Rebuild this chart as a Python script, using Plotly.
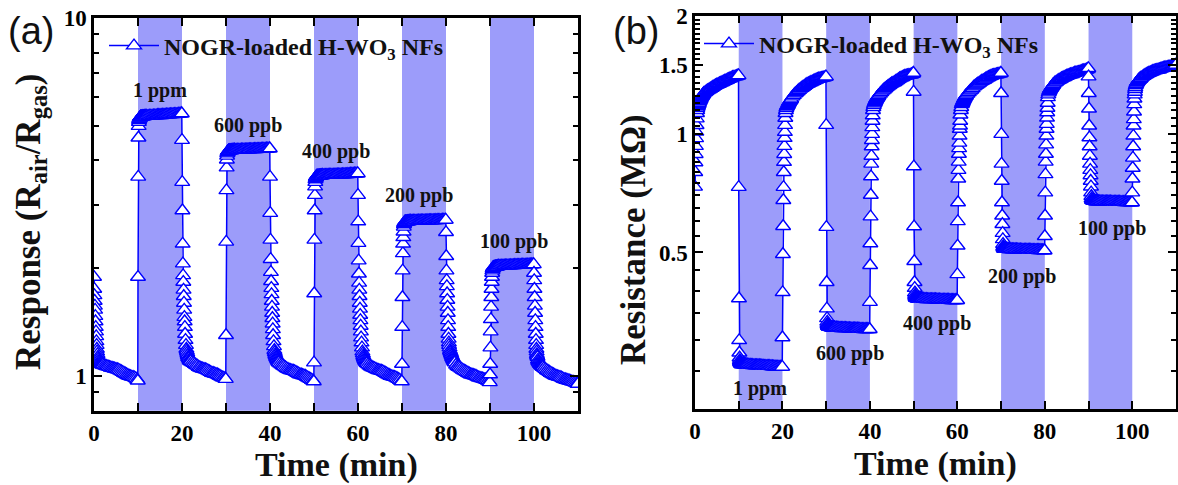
import math
import plotly.graph_objects as go

# ---------------- data ----------------
# relative sampling times (min) inside each 10-min step
SEG_T = [0.0, 0.05, 0.1, 0.15, 0.2, 0.25, 0.3, 0.35, 0.4, 0.45, 0.5, 0.55, 0.6, 0.65, 0.7,
         0.8, 0.9, 1.0, 1.1, 1.2, 1.3, 1.4, 1.5, 1.6, 1.7, 1.8, 1.9, 2.0,
         2.3, 2.6, 2.9, 3.2, 3.5, 3.8, 4.1, 4.4, 4.7, 5.0, 5.3, 5.6, 5.9, 6.2, 6.5, 6.8,
         7.1, 7.4, 7.7, 8.0, 8.3, 8.6, 8.9, 9.2, 9.5, 9.8, 9.95]
SEG_STARTS = [0, 10, 20, 30, 40, 50, 60, 70, 80, 90, 100]
GAS_ON = [10, 30, 50, 70, 90]
GAS_MIN = 10
CONC_LABELS = ["1 ppm", "600 ppb", "400 ppb", "200 ppb", "100 ppb"]

# (a) response Rair/Rgas
A_R0 = [1.89, 1.75, 1.68, 1.62, 1.57, 1.53, 1.47, 1.42, 1.37, 1.33, 1.29, 1.25, 1.22, 1.19, 1.17,
        1.15, 1.13, 1.12, 1.11, 1.10, 1.095, 1.09, 1.087, 1.084, 1.08, 1.078, 1.076, 1.075,
        1.071, 1.068, 1.065, 1.062, 1.059, 1.055, 1.053, 1.05, 1.048, 1.045, 1.043, 1.04, 1.035, 1.03,
        1.025, 1.02, 1.015, 1.01, 1.005, 1.0, 0.998, 0.995, 0.993, 0.99, 0.985, 0.978, 0.97]
A_E1 = [1.89, 3.60, 4.63, 4.99, 5.12, 5.18, 5.22, 5.24, 5.26, 5.27, 5.28, 5.29, 5.29, 5.30, 5.30,
        5.30, 5.30, 5.31, 5.31, 5.31, 5.31, 5.31, 5.32, 5.32, 5.32, 5.32, 5.32, 5.32,
        5.32, 5.33, 5.33, 5.33, 5.34, 5.34, 5.34, 5.35, 5.35, 5.35, 5.35, 5.36, 5.36, 5.36,
        5.37, 5.37, 5.37, 5.38, 5.38, 5.38, 5.39, 5.39, 5.39, 5.40, 5.40, 5.41, 5.41]
A_R1 = [4.56, 3.48, 2.90, 2.34, 2.06, 1.91, 1.83, 1.74, 1.67, 1.60, 1.53, 1.46, 1.42, 1.37, 1.31,
        1.26, 1.22, 1.19, 1.175, 1.16, 1.145, 1.13, 1.125, 1.12, 1.11, 1.105, 1.10, 1.10,
        1.093, 1.087, 1.08, 1.073, 1.067, 1.06, 1.055, 1.05, 1.048, 1.045, 1.043, 1.04, 1.035, 1.03,
        1.025, 1.02, 1.018, 1.015, 1.012, 1.01, 1.005, 1.0, 0.995, 0.99, 0.988, 0.984, 0.98]
A_E2 = [1.30, 2.37, 3.30, 3.82, 4.02, 4.12, 4.18, 4.21, 4.23, 4.24, 4.25, 4.25, 4.26, 4.26, 4.26,
        4.265, 4.27, 4.27, 4.27, 4.27, 4.272, 4.274, 4.275, 4.276, 4.277, 4.278, 4.279, 4.28,
        4.28, 4.28, 4.282, 4.284, 4.285, 4.286, 4.288, 4.29, 4.29, 4.292, 4.294, 4.295, 4.296, 4.298,
        4.30, 4.30, 4.302, 4.304, 4.305, 4.306, 4.308, 4.31, 4.312, 4.314, 4.316, 4.318, 4.32]
A_R2 = [3.60, 2.85, 2.40, 2.12, 1.95, 1.84, 1.76, 1.69, 1.62, 1.56, 1.50, 1.45, 1.40, 1.35, 1.30,
        1.25, 1.21, 1.18, 1.165, 1.15, 1.14, 1.13, 1.123, 1.117, 1.11, 1.103, 1.096, 1.09,
        1.083, 1.076, 1.07, 1.064, 1.057, 1.05, 1.045, 1.04, 1.038, 1.035, 1.033, 1.03, 1.025, 1.02,
        1.015, 1.01, 1.008, 1.005, 1.003, 1.0, 0.995, 0.99, 0.985, 0.98, 0.975, 0.97, 0.965]
A_E3 = [1.09, 1.70, 2.40, 2.90, 3.20, 3.38, 3.48, 3.54, 3.57, 3.59, 3.60, 3.61, 3.61, 3.62, 3.62,
        3.62, 3.622, 3.624, 3.626, 3.628, 3.63, 3.63, 3.632, 3.634, 3.635, 3.636, 3.638, 3.64,
        3.64, 3.641, 3.642, 3.643, 3.644, 3.645, 3.646, 3.647, 3.648, 3.65, 3.651, 3.652, 3.653, 3.654,
        3.655, 3.656, 3.658, 3.66, 3.662, 3.664, 3.666, 3.668, 3.67, 3.672, 3.674, 3.677, 3.68]
A_R3 = [3.20, 2.70, 2.35, 2.10, 1.93, 1.82, 1.74, 1.67, 1.60, 1.54, 1.48, 1.43, 1.38, 1.33, 1.28,
        1.24, 1.20, 1.17, 1.155, 1.14, 1.13, 1.12, 1.113, 1.106, 1.10, 1.095, 1.09, 1.085,
        1.078, 1.07, 1.063, 1.058, 1.054, 1.05, 1.045, 1.04, 1.038, 1.035, 1.033, 1.03, 1.025, 1.02,
        1.015, 1.01, 1.005, 1.0, 0.998, 0.995, 0.993, 0.99, 0.985, 0.98, 0.975, 0.968, 0.965]
A_E4 = [1.08, 1.37, 1.66, 1.97, 2.20, 2.34, 2.44, 2.53, 2.61, 2.65, 2.67, 2.68, 2.69, 2.69, 2.70,
        2.70, 2.70, 2.70, 2.70, 2.702, 2.703, 2.704, 2.705, 2.706, 2.707, 2.708, 2.709, 2.71,
        2.71, 2.71, 2.711, 2.712, 2.713, 2.714, 2.715, 2.715, 2.716, 2.717, 2.718, 2.718, 2.719, 2.72,
        2.72, 2.72, 2.721, 2.722, 2.723, 2.724, 2.725, 2.726, 2.727, 2.728, 2.729, 2.73, 2.73]
A_R4 = [2.52, 2.16, 1.97, 1.85, 1.78, 1.70, 1.63, 1.56, 1.50, 1.43, 1.37, 1.31, 1.27, 1.24, 1.22,
        1.20, 1.18, 1.17, 1.16, 1.15, 1.14, 1.13, 1.123, 1.117, 1.11, 1.103, 1.096, 1.09,
        1.075, 1.065, 1.06, 1.054, 1.047, 1.04, 1.035, 1.03, 1.025, 1.02, 1.015, 1.01, 1.008, 1.005,
        1.003, 1.0, 0.995, 0.99, 0.988, 0.985, 0.983, 0.98, 0.978, 0.975, 0.97, 0.965, 0.96]
A_E5 = [1.01, 1.08, 1.20, 1.33, 1.44, 1.56, 1.66, 1.75, 1.83, 1.89, 1.94, 1.97, 1.99, 2.00, 2.01,
        2.01, 2.013, 2.015, 2.017, 2.02, 2.02, 2.02, 2.022, 2.024, 2.025, 2.026, 2.028, 2.03,
        2.03, 2.03, 2.031, 2.032, 2.033, 2.034, 2.035, 2.035, 2.036, 2.037, 2.038, 2.039, 2.04, 2.04,
        2.04, 2.041, 2.042, 2.043, 2.044, 2.045, 2.045, 2.046, 2.047, 2.048, 2.049, 2.05, 2.05]
A_R5 = [1.94, 1.85, 1.75, 1.66, 1.57, 1.50, 1.43, 1.37, 1.31, 1.26, 1.22, 1.19, 1.17, 1.15, 1.14,
        1.13, 1.11, 1.10, 1.095, 1.09, 1.085, 1.08, 1.077, 1.073, 1.07, 1.067, 1.063, 1.06,
        1.053, 1.045, 1.038, 1.032, 1.026, 1.02, 1.015, 1.01, 1.005, 1.0, 0.998, 0.995, 0.993, 0.99,
        0.985, 0.98, 0.978, 0.975, 0.973, 0.97, 0.968, 0.965, 0.963, 0.96, 0.957, 0.953, 0.95]

# (b) resistance (MOhm)
B_R0 = [0.734, 0.80, 0.847, 0.889, 0.932, 0.975, 1.013, 1.053, 1.095, 1.13, 1.15, 1.165, 1.175, 1.18, 1.185,
        1.19, 1.20, 1.21, 1.218, 1.225, 1.232, 1.24, 1.245, 1.25, 1.255, 1.26, 1.265, 1.27,
        1.277, 1.285, 1.292, 1.298, 1.304, 1.31, 1.318, 1.325, 1.33, 1.335, 1.34, 1.345, 1.35, 1.355,
        1.36, 1.365, 1.37, 1.375, 1.38, 1.385, 1.39, 1.395, 1.398, 1.40, 1.403, 1.407, 1.41]
B_E1 = [0.733, 0.382, 0.299, 0.278, 0.270, 0.266, 0.264, 0.263, 0.262, 0.262, 0.261, 0.261, 0.261, 0.260, 0.260,
        0.260, 0.260, 0.260, 0.260, 0.260, 0.2598, 0.2596, 0.2594, 0.2592, 0.259, 0.259, 0.259, 0.259,
        0.259, 0.2588, 0.2586, 0.2584, 0.2582, 0.258, 0.258, 0.258, 0.258, 0.2578, 0.2576, 0.2574, 0.2572, 0.257,
        0.257, 0.257, 0.257, 0.2568, 0.2566, 0.2564, 0.2562, 0.256, 0.256, 0.256, 0.256, 0.256, 0.256]
B_R1 = [0.304, 0.396, 0.495, 0.583, 0.679, 0.733, 0.80, 0.849, 0.889, 0.932, 0.977, 1.012, 1.054, 1.099, 1.13,
        1.15, 1.165, 1.175, 1.18, 1.185, 1.192, 1.20, 1.205, 1.21, 1.215, 1.22, 1.225, 1.23,
        1.245, 1.256, 1.267, 1.276, 1.285, 1.295, 1.303, 1.31, 1.318, 1.325, 1.333, 1.34, 1.345, 1.35,
        1.355, 1.36, 1.365, 1.37, 1.375, 1.38, 1.383, 1.385, 1.388, 1.39, 1.393, 1.396, 1.40]
B_E2 = [1.054, 0.58, 0.42, 0.36, 0.34, 0.333, 0.329, 0.327, 0.326, 0.325, 0.325, 0.324, 0.324, 0.324, 0.323,
        0.323, 0.323, 0.323, 0.3228, 0.3226, 0.3224, 0.3222, 0.322, 0.322, 0.322, 0.322, 0.322, 0.322,
        0.3218, 0.3216, 0.3214, 0.3212, 0.321, 0.321, 0.321, 0.321, 0.3208, 0.3206, 0.3204, 0.3202, 0.320, 0.320,
        0.320, 0.320, 0.320, 0.3198, 0.3196, 0.3194, 0.3192, 0.319, 0.319, 0.319, 0.319, 0.319, 0.319]
B_R2 = [0.374, 0.464, 0.527, 0.617, 0.70, 0.78, 0.84, 0.88, 0.93, 0.965, 1.0, 1.04, 1.08, 1.115, 1.15,
        1.17, 1.185, 1.195, 1.203, 1.21, 1.218, 1.225, 1.23, 1.235, 1.24, 1.245, 1.25, 1.255,
        1.266, 1.277, 1.288, 1.297, 1.306, 1.315, 1.323, 1.33, 1.338, 1.345, 1.35, 1.355, 1.363, 1.37,
        1.378, 1.385, 1.39, 1.395, 1.40, 1.405, 1.408, 1.41, 1.413, 1.415, 1.418, 1.422, 1.43]
B_E3 = [1.28, 0.827, 0.582, 0.475, 0.42, 0.406, 0.395, 0.39, 0.387, 0.385, 0.384, 0.384, 0.383, 0.383, 0.383,
        0.382, 0.382, 0.382, 0.382, 0.3818, 0.3816, 0.3814, 0.3812, 0.381, 0.381, 0.381, 0.381, 0.381,
        0.3808, 0.3806, 0.3804, 0.3802, 0.380, 0.380, 0.380, 0.380, 0.380, 0.3798, 0.3796, 0.3794, 0.3792, 0.379,
        0.379, 0.379, 0.379, 0.379, 0.3788, 0.3786, 0.3784, 0.3782, 0.378, 0.378, 0.378, 0.378, 0.378]
B_R3 = [0.44, 0.52, 0.60, 0.67, 0.77, 0.81, 0.85, 0.89, 0.92, 0.95, 0.99, 1.03, 1.05, 1.08, 1.12,
        1.15, 1.17, 1.19, 1.198, 1.205, 1.213, 1.22, 1.227, 1.233, 1.24, 1.245, 1.25, 1.255,
        1.266, 1.277, 1.288, 1.297, 1.308, 1.32, 1.328, 1.335, 1.343, 1.35, 1.358, 1.365, 1.37, 1.375,
        1.383, 1.39, 1.395, 1.40, 1.405, 1.41, 1.413, 1.415, 1.418, 1.42, 1.423, 1.426, 1.43]
B_E4 = [1.27, 1.0, 0.84, 0.76, 0.67, 0.62, 0.59, 0.56, 0.54, 0.525, 0.518, 0.515, 0.513, 0.512, 0.511,
        0.511, 0.5108, 0.5106, 0.5104, 0.5102, 0.510, 0.510, 0.510, 0.510, 0.510, 0.5098, 0.5096, 0.5094,
        0.5092, 0.509, 0.509, 0.509, 0.5088, 0.5086, 0.5084, 0.5082, 0.508, 0.508, 0.508, 0.508, 0.508, 0.5078,
        0.5076, 0.5074, 0.5072, 0.507, 0.507, 0.507, 0.507, 0.5068, 0.5066, 0.5064, 0.5062, 0.506, 0.506]
B_R4 = [0.55, 0.62, 0.71, 0.79, 0.85, 0.89, 0.94, 0.99, 1.03, 1.06, 1.10, 1.135, 1.165, 1.20, 1.24,
        1.26, 1.275, 1.285, 1.293, 1.30, 1.305, 1.31, 1.315, 1.32, 1.325, 1.33, 1.335, 1.34,
        1.351, 1.358, 1.366, 1.372, 1.378, 1.385, 1.39, 1.395, 1.40, 1.405, 1.41, 1.415, 1.418, 1.42,
        1.425, 1.43, 1.433, 1.435, 1.438, 1.44, 1.445, 1.45, 1.452, 1.455, 1.458, 1.462, 1.47]
B_E5 = [1.40, 1.27, 1.16, 1.05, 0.98, 0.93, 0.88, 0.84, 0.81, 0.785, 0.76, 0.735, 0.71, 0.695, 0.685,
        0.68, 0.679, 0.678, 0.6775, 0.677, 0.6765, 0.676, 0.6755, 0.675, 0.675, 0.675, 0.6745, 0.674,
        0.674, 0.674, 0.6738, 0.6736, 0.6734, 0.6732, 0.673, 0.673, 0.673, 0.673, 0.6728, 0.6726, 0.6724, 0.6722,
        0.672, 0.672, 0.672, 0.6718, 0.6716, 0.6714, 0.6712, 0.671, 0.671, 0.6705, 0.670, 0.670, 0.670]
B_R5 = [0.71, 0.77, 0.82, 0.87, 0.93, 0.99, 1.05, 1.09, 1.14, 1.19, 1.23, 1.26, 1.28, 1.30, 1.315,
        1.33, 1.34, 1.35, 1.355, 1.36, 1.365, 1.37, 1.373, 1.377, 1.38, 1.383, 1.387, 1.39,
        1.398, 1.405, 1.413, 1.42, 1.425, 1.43, 1.435, 1.44, 1.445, 1.45, 1.453, 1.455, 1.458, 1.46,
        1.465, 1.47, 1.473, 1.475, 1.478, 1.48, 1.483, 1.485, 1.488, 1.49, 1.493, 1.496, 1.50]

A_SEGS = [A_R0, A_E1, A_R1, A_E2, A_R2, A_E3, A_R3, A_E4, A_R4, A_E5, A_R5]
B_SEGS = [B_R0, B_E1, B_R1, B_E2, B_R2, B_E3, B_R3, B_E4, B_R4, B_E5, B_R5]

X_TICKS = [0, 20, 40, 60, 80, 100]
X_MINOR = [10, 30, 50, 70, 90]
A_YTICKS = [1, 10]
A_YMINOR = [0.9, 2, 3, 4, 5, 6, 7, 8, 9]
B_YTICKS = [0.5, 1, 1.5, 2]
B_YMINOR = [0.25, 0.3, 0.35, 0.4, 0.45, 0.55, 0.6, 0.65, 0.7, 0.75, 0.8, 0.85, 0.9, 0.95,
            1.05, 1.1, 1.15, 1.2, 1.25, 1.3, 1.35, 1.4, 1.45, 1.55, 1.6, 1.65, 1.7, 1.75, 1.8, 1.85, 1.9, 1.95]

LEGEND_NAME = "NOGR-loaded H-WO<sub>3</sub> NFs"

# ---------------- build ----------------
for seg in A_SEGS + B_SEGS:
    assert len(seg) == len(SEG_T), len(seg)

times = [s + t for s in SEG_STARTS for t in SEG_T]
resp = [v for seg in A_SEGS for v in seg]
res = [v for seg in B_SEGS for v in seg]

W, H = 1178, 485
BLUE = "#0000FF"
BAND = "#9C9CFA"
SERIF = "Liberation Serif"

def px_x(p):
    return p / W

def px_y(p):
    return 1 - p / H

fig = go.Figure()
marker = dict(symbol="triangle-up", size=13, color="white", line=dict(color=BLUE, width=1.4))
fig.add_trace(go.Scatter(x=times, y=resp, mode="lines+markers", name=LEGEND_NAME,
                         line=dict(color=BLUE, width=1.5), marker=marker,
                         xaxis="x", yaxis="y", legend="legend"))
fig.add_trace(go.Scatter(x=times, y=res, mode="lines+markers", name=LEGEND_NAME,
                         line=dict(color=BLUE, width=1.5), marker=marker,
                         xaxis="x2", yaxis="y2", legend="legend2"))

shapes = []
for xa, ya in (("x", "y"), ("x2", "y2")):
    for s in GAS_ON:
        shapes.append(dict(type="rect", xref=xa, yref=f"{ya} domain", x0=s, x1=s + GAS_MIN,
                           y0=0, y1=1, fillcolor=BAND, line=dict(width=0), layer="below"))

tickfont = dict(family=SERIF, size=23, color="black", weight="bold")

def xaxis(domain, anchor):
    return dict(domain=domain, anchor=anchor, range=[0, 110], tickvals=X_TICKS,
                ticks="inside", ticklen=8, tickwidth=2, tickcolor="black", automargin=False,
                showline=True, linewidth=2.5, linecolor="black", mirror="ticks",
                showgrid=False, zeroline=False, tickfont=tickfont,
                minor=dict(tickvals=X_MINOR, ticks="inside", ticklen=8, tickwidth=2, tickcolor="black", showgrid=False))

def yaxis(domain, anchor, rng, tv, minor_tv):
    return dict(domain=domain, anchor=anchor, type="log", range=rng, tickvals=tv,
                ticktext=[("%g" % v) for v in tv], automargin=False,
                ticks="inside", ticklen=8, tickwidth=2, tickcolor="black",
                showline=True, linewidth=2.5, linecolor="black", mirror="ticks",
                showgrid=False, zeroline=False, tickfont=tickfont,
                minor=dict(tickvals=minor_tv, ticks="inside", ticklen=5, tickwidth=2, tickcolor="black", showgrid=False))

A_X = [px_x(94), px_x(578)]
A_Y = [px_y(410.7), px_y(18)]
B_X = [px_x(695), px_x(1176)]
B_Y = [px_y(409), px_y(15.7)]

annots = []
def label(text, x, y, size=20, angle=0, family=SERIF, weight="bold"):
    annots.append(dict(text=text, x=px_x(x), y=px_y(y), xref="paper", yref="paper",
                       showarrow=False, xanchor="center", yanchor="middle", textangle=angle,
                       font=dict(family=family, size=size, color="#111", weight=weight)))

A_LAB_POS = [(160, 90), (248, 126), (336, 151), (419, 195), (514, 241)]
B_LAB_POS = [(760, 388), (850, 353), (937, 323), (1022, 276), (1112, 228)]
for t, (x, y) in zip(CONC_LABELS, A_LAB_POS):
    label(t, x, y)
for t, (x, y) in zip(CONC_LABELS, B_LAB_POS):
    label(t, x, y)

label("Time (min)", 336, 465, size=34)
label("Time (min)", 936, 464, size=34)
label("Response (R<sub>air</sub>/R<sub>gas</sub>)", 31, 222, size=35, angle=-90)
label("Resistance (M\u03a9)", 633, 240, size=35, angle=-90)
label("(a)", 31, 31, size=38, family="Liberation Sans", weight="normal")
label("(b)", 636, 31, size=38, family="Liberation Sans", weight="normal")

legfont = dict(family=SERIF, size=24, color="#111", weight="bold")
fig.update_layout(
    width=W, height=H, margin=dict(l=0, r=0, t=0, b=0, autoexpand=False),
    paper_bgcolor="white", plot_bgcolor="white",
    xaxis=xaxis(A_X, "y"),
    yaxis=yaxis(A_Y, "x", [math.log10(0.8), 1], A_YTICKS, A_YMINOR),
    xaxis2=xaxis(B_X, "y2"),
    yaxis2=yaxis(B_Y, "x2", [math.log10(0.2), math.log10(2)], B_YTICKS, B_YMINOR),
    shapes=shapes, annotations=annots,
    showlegend=True,
    legend=dict(x=px_x(104), y=px_y(46), xanchor="left", yanchor="middle", itemwidth=50,
                bgcolor="rgba(0,0,0,0)", font=legfont),
    legend2=dict(x=px_x(699), y=px_y(44), xanchor="left", yanchor="middle", itemwidth=50,
                 bgcolor="rgba(0,0,0,0)", font=legfont),
)

fig.write_html("out.html", config={"displayModeBar": False},
               post_script="document.body.style.margin='0';")
